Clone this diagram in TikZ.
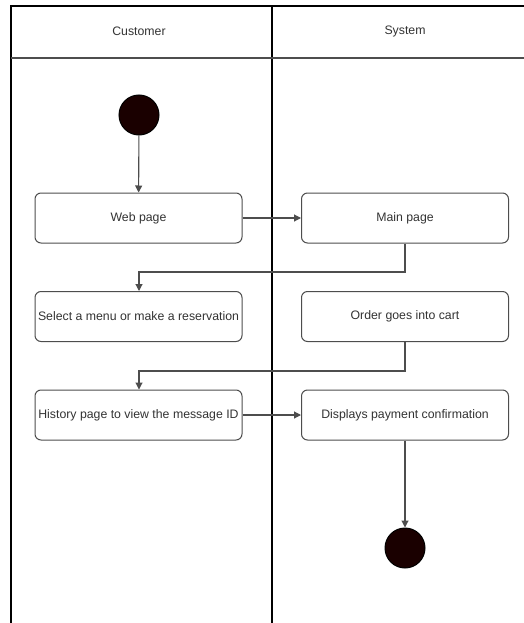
\documentclass[tikz,border=0pt]{standalone}
\usepackage{fontspec}
\setmainfont{Liberation Sans}
\usetikzlibrary{arrows.meta}
\definecolor{txt}{HTML}{333333}
\definecolor{edge}{HTML}{4D4D4D}
\definecolor{dot}{HTML}{1A0000}
\begin{document}
\begin{tikzpicture}[x=1pt,y=-1pt,
  act/.style={draw=edge,line width=1pt,rounded corners=6pt,fill=white,
    minimum width=207pt,minimum height=50pt,inner sep=0pt,
    font=\fontsize{12.3}{14}\selectfont,text=txt},
  dotnode/.style={circle,draw=black,line width=1pt,fill=dot,minimum size=40pt,inner sep=0pt},
  flow/.style={draw=edge,line width=1.1pt,-{Triangle[length=7pt,width=7pt]}},
  lane/.style={draw=black,line width=1.1pt},
  hdr/.style={font=\fontsize{12.3}{14}\selectfont,text=txt}]
\useasboundingbox (0,0) rectangle (524,623);
% swimlane frame
\draw[lane] (11,623) -- (11,6) -- (524,6);
\draw[lane] (272,6) -- (272,623);
\draw[edge,line width=1.1pt] (11,58) -- (524,58);
\node[hdr] (hc) at (139,31) {Customer};
\node[hdr] (hs) at (405,31) {System};
% nodes
\node[dotnode] (start) at (139,115) {};
\node[act] (web) at (138.5,218) {Web page};
\node[act] (main) at (405,218) {Main page};
\node[act] (sel) at (138.5,316.5) {Select a menu or make a reservation};
\node[act] (cart) at (405,316.5) {Order goes into cart};
\node[act] (hist) at (138.5,415) {History page to view the message ID};
\node[act] (pay) at (405,415) {Displays payment confirmation};
\node[dotnode] (stop) at (405,548) {};
% connectors
\draw[flow] (start) -- (web);
\draw[flow] (web) -- (main);
\draw[flow] (main.south) |- (139,272) -- (sel.north -| 139,0);
\draw[flow] (cart.south) |- (139,371) -- (hist.north -| 139,0);
\draw[flow] (hist) -- (pay);
\draw[flow] (pay) -- (stop);
\end{tikzpicture}
\end{document}
